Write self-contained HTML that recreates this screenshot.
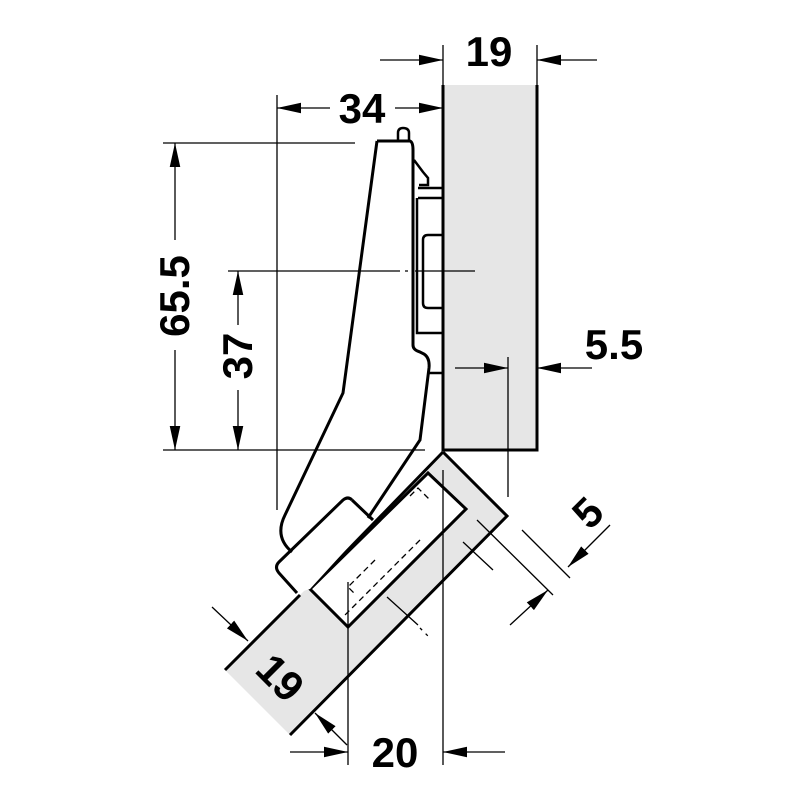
<!DOCTYPE html>
<html><head><style>html,body{margin:0;padding:0;background:#fff}svg{display:block}</style></head>
<body>
<svg width="800" height="800" viewBox="0 0 800 800" xmlns="http://www.w3.org/2000/svg">
<defs>
<marker id="a" viewBox="0 0 10 10" refX="10" refY="5" markerWidth="24" markerHeight="24" markerUnits="userSpaceOnUse" orient="auto"><path d="M0,2.8 L10,5 L0,7.2 z" fill="#000"/></marker>
</defs>
<g fill="none" stroke="#000" stroke-width="1.3">
<rect x="443" y="85" width="94" height="365" fill="#e6e6e6" stroke="none"/>
<path d="M443,85 V450 H537 V85" stroke-width="3"/>
<polygon points="443,452 507,516 290,735 225,670" fill="#e6e6e6" stroke="none"/>
<path d="M443,452 L507,516 L290,735 M225,670 L300,595" stroke-width="3"/>
<path d="M443,452 L310,589" stroke-width="3"/>
<polygon points="428,473 466,509 348,627 310,589" fill="#fff" stroke-width="3"/>
<polygon points="377,141 413,145 413,350 428,360 420,440 373,520 352,500 290,550 285,515 343,393" fill="#fff" stroke="none"/>
<path d="M352,500 L373,520 L310,589 L297,593 L279,573 L279,562 Z" fill="#fff" stroke="none"/>
<path d="M377,141 L343,393 L285,515 Q274,537 292,552" stroke-width="3"/>
<path d="M377,141 L410,141 Q413,142 413,150 L413,345 Q413,350 420,352 L424,354 Q430,358 429,368 L420,440 L368,518" stroke-width="3"/>
<path d="M398,141 L398,133 Q398,128 403,128 Q409,128 409,133 L409,141" stroke-width="2.5"/>
<path d="M414,160 L423,172 L428,178 L428,185 L419,185" stroke-width="2.5"/>
<path d="M352,500 Q348,496 343,500 L279,562 Q274,567 279,573 L297,593" stroke-width="3"/>
<path d="M352,500 L373,520" stroke-width="3"/>
<path d="M418,188 H443 M418,198 H443 M417,198 V333 H443" stroke-width="2.5"/>
<path d="M443,235 H428 Q423,235 423,240 V303 Q423,308 428,308 H443" stroke-width="2.5"/>
<path d="M428,373 H443" stroke-width="2.5"/>
<path d="M410,496 L418,488 L430,500 M375,560 L348,587 L356,595 M420,540 L345,615" stroke-dasharray="6,4"/>
<path d="M463,542 L493,570 M387,597 L418,625"/>
<path d="M420,628 L430,638" stroke-dasharray="3,5"/>
<path d="M443,45 V85 M537,45 V85"/>
<line x1="380" y1="60" x2="443" y2="60" marker-end="url(#a)"/>
<line x1="597" y1="60" x2="537" y2="60" marker-end="url(#a)"/>
<path d="M277,95 V510"/>
<line x1="330" y1="108" x2="277" y2="108" marker-end="url(#a)"/>
<line x1="395" y1="108" x2="443" y2="108" marker-end="url(#a)"/>
<path d="M163,143 H355 M163,450 H425"/>
<line x1="175" y1="240" x2="175" y2="143" marker-end="url(#a)"/>
<line x1="175" y1="350" x2="175" y2="450" marker-end="url(#a)"/>
<path d="M228,271 H400 M405,271 H408 M415,271 H475"/>
<line x1="238" y1="325" x2="238" y2="271" marker-end="url(#a)"/>
<line x1="238" y1="390" x2="238" y2="450" marker-end="url(#a)"/>
<path d="M508,357 V497"/>
<line x1="455" y1="368" x2="508" y2="368" marker-end="url(#a)"/>
<line x1="592" y1="368" x2="537" y2="368" marker-end="url(#a)"/>
<path d="M477,520 L553,595 M522,530 L570,578"/>
<line x1="510" y1="625" x2="548" y2="590" marker-end="url(#a)"/>
<line x1="610" y1="525" x2="568" y2="567" marker-end="url(#a)"/>
<line x1="212" y1="607" x2="248" y2="641" marker-end="url(#a)"/>
<line x1="347" y1="745" x2="315" y2="713" marker-end="url(#a)"/>
<path d="M348,582 V765 M443,470 V765"/>
<line x1="290" y1="752" x2="348" y2="752" marker-end="url(#a)"/>
<line x1="505" y1="752" x2="443" y2="752" marker-end="url(#a)"/>
</g>
<g font-family="Liberation Sans, sans-serif" font-weight="bold" font-size="42" fill="#000" text-anchor="middle">
<text x="489" y="66">19</text>
<text x="362" y="123">34</text>
<text x="614" y="359">5.5</text>
<text x="395" y="767">20</text>
<text transform="translate(189,296) rotate(-90)">65.5</text>
<text transform="translate(252,356) rotate(-90)">37</text>
<text transform="translate(598,523) rotate(-45)">5</text>
<text transform="translate(270,688) rotate(45)">19</text>
</g>
</svg>
</body></html>
